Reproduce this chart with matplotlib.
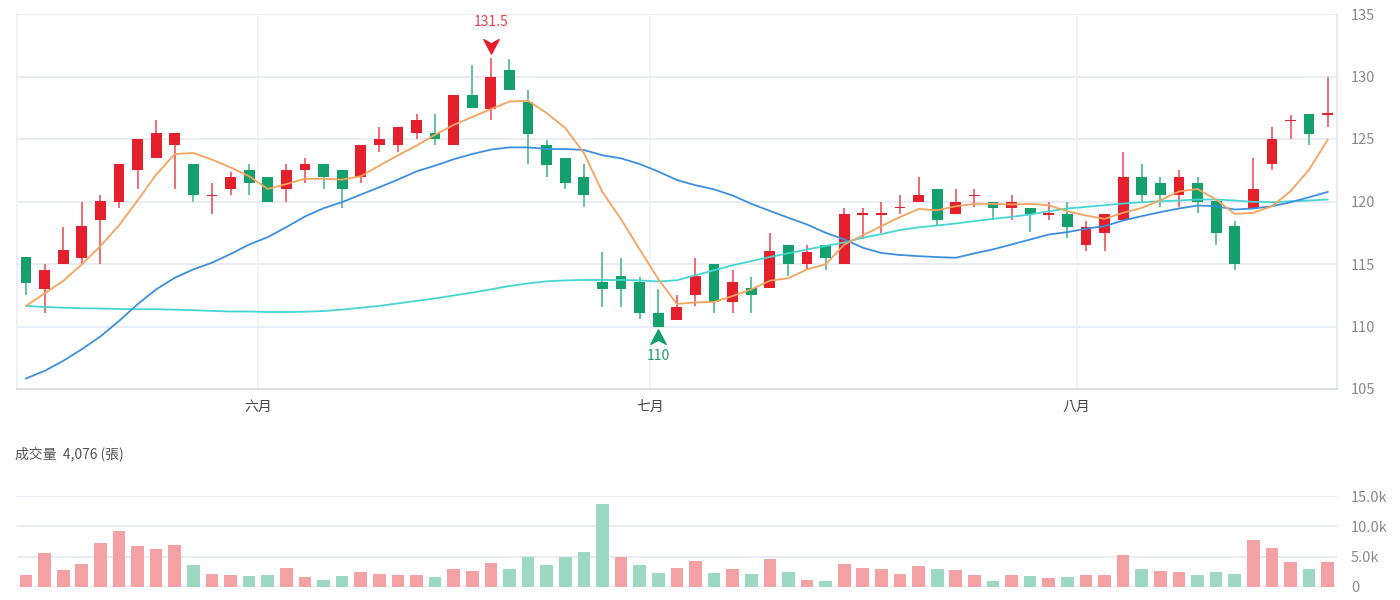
import numpy as np
import matplotlib.pyplot as plt
from matplotlib.path import Path
from matplotlib.transforms import offset_copy

plt.rcParams['font.family'] = ['Noto Sans CJK TC', 'DejaVu Sans']

# daily candles (open, high, low, close)
opens = [115.55, 113.0, 115.0, 115.5, 118.5, 120.0, 122.5, 123.5, 124.5, 123.0,
         120.45, 121.0, 122.5, 122.0, 121.0, 122.5, 123.0, 122.5, 122.0, 124.5,
         124.5, 125.5, 125.5, 124.5, 128.5, 127.4, 130.5, 128.0, 124.5, 123.5,
         122.0, 113.55, 114.05, 113.55, 111.05, 110.5, 112.55, 115.0, 112.0, 113.05,
         113.05, 116.5, 115.0, 116.5, 115.0, 118.95, 118.95, 119.45, 120.0, 121.0,
         119.0, 120.45, 120.0, 119.45, 119.5, 118.95, 119.0, 116.5, 117.5, 118.5,
         122.0, 121.5, 120.5, 121.5, 120.05, 118.05, 119.45, 123.0, 126.45, 127.0,
         126.95]
highs = [115.6, 115.0, 118.0, 120.0, 120.5, 123.0, 125.0, 126.5, 125.5, 123.0,
         121.5, 122.4, 123.0, 122.0, 123.0, 123.5, 123.0, 122.5, 124.5, 126.0,
         126.0, 127.0, 127.0, 128.5, 130.9, 131.5, 131.4, 128.95, 124.95, 123.5,
         123.0, 116.0, 115.5, 114.0, 113.0, 112.5, 115.5, 115.0, 114.5, 114.0,
         117.5, 116.5, 116.5, 116.5, 119.5, 119.5, 120.0, 120.5, 122.0, 121.0,
         121.0, 121.0, 120.0, 120.5, 119.5, 120.0, 120.0, 118.45, 119.0, 123.95,
         123.0, 122.0, 122.5, 122.0, 120.05, 118.45, 123.45, 125.95, 126.95, 127.0,
         130.0]
lows = [112.55, 111.05, 115.0, 115.0, 115.0, 119.5, 121.0, 123.5, 121.0, 120.0,
        119.0, 120.5, 120.5, 120.0, 120.0, 121.5, 121.0, 119.5, 121.5, 124.0,
        124.0, 125.0, 124.5, 124.5, 127.45, 126.5, 128.95, 123.0, 122.0, 121.0,
        119.55, 111.55, 111.55, 110.6, 110.0, 110.5, 111.65, 111.1, 111.1, 111.1,
        113.05, 114.05, 114.5, 114.55, 115.0, 117.0, 117.5, 119.0, 120.0, 118.1,
        119.0, 119.55, 118.55, 118.5, 117.55, 118.5, 117.05, 116.05, 116.05, 118.5,
        120.0, 119.55, 119.55, 119.05, 116.55, 114.55, 119.45, 122.5, 125.0, 124.5,
        126.0]
closes = [113.5, 114.55, 116.1, 118.05, 120.05, 123.0, 125.0, 125.5, 125.5, 120.5,
          120.55, 122.0, 121.5, 120.0, 122.5, 123.0, 122.0, 121.0, 124.5, 125.0,
          126.0, 126.5, 125.0, 128.5, 127.45, 130.0, 128.95, 125.4, 122.95, 121.45,
          120.5, 113.0, 113.0, 111.05, 110.0, 111.55, 114.05, 112.0, 113.55, 112.55,
          116.0, 115.0, 116.0, 115.5, 119.0, 119.05, 119.05, 119.55, 120.5, 118.5,
          120.0, 120.55, 119.45, 120.0, 119.0, 119.05, 118.0, 118.0, 119.0, 122.0,
          120.5, 120.5, 122.0, 120.0, 117.5, 115.0, 121.0, 125.0, 126.55, 125.4,
          127.05]

# moving averages
ma5 = [111.64, 112.65, 113.64, 114.97, 116.43, 118.08, 120.08, 122.15, 123.8, 123.88,
       123.35, 122.73, 122.02, 121.0, 121.4, 121.82, 121.82, 121.75, 122.02, 122.87,
       123.69, 124.47, 125.34, 126.13, 126.76, 127.39, 128.0, 128.06, 127.07, 125.88,
       123.88, 120.75, 118.58, 116.17, 113.8, 111.8, 111.93, 111.96, 112.44, 112.97,
       113.67, 113.86, 114.57, 114.97, 116.55, 117.3, 118.03, 118.76, 119.4, 119.3,
       119.62, 119.81, 119.81, 119.76, 119.81, 119.7, 119.22, 118.88, 118.61, 119.1,
       119.49, 120.1, 120.8, 121.0, 120.16, 119.01, 119.09, 119.62, 120.82, 122.55,
       124.94]
ma20 = [105.84, 106.45, 107.25, 108.18, 109.2, 110.44, 111.78, 112.97, 113.9, 114.57,
        115.1, 115.8, 116.56, 117.15, 117.95, 118.8, 119.46, 119.95, 120.55, 121.14,
        121.75, 122.41, 122.87, 123.38, 123.8, 124.15, 124.33, 124.33, 124.2, 124.2,
        124.12, 123.7, 123.45, 123.0, 122.4, 121.72, 121.3, 120.97, 120.48, 119.82,
        119.25, 118.7, 118.16, 117.5, 116.97, 116.3, 115.88, 115.72, 115.63, 115.55,
        115.5, 115.85, 116.17, 116.56, 116.96, 117.36, 117.55, 117.82, 118.03, 118.48,
        118.83, 119.15, 119.44, 119.68, 119.62, 119.36, 119.44, 119.62, 119.94, 120.34,
        120.77]
ma60 = [111.64, 111.56, 111.5, 111.46, 111.44, 111.4, 111.38, 111.38, 111.35, 111.3,
        111.25, 111.2, 111.2, 111.16, 111.16, 111.18, 111.24, 111.35, 111.5, 111.65,
        111.85, 112.05, 112.25, 112.48, 112.71, 112.97, 113.24, 113.45, 113.61, 113.69,
        113.72, 113.72, 113.72, 113.69, 113.6, 113.7, 114.1, 114.5, 114.9, 115.23,
        115.56, 115.86, 116.16, 116.45, 116.72, 117.1, 117.39, 117.72, 117.93, 118.08,
        118.24, 118.43, 118.61, 118.77, 118.96, 119.22, 119.44, 119.57, 119.7, 119.84,
        119.94, 120.02, 120.08, 120.16, 120.16, 120.08, 119.97, 119.94, 120.02, 120.08,
        120.16]

# volume (張) and whether the bar is drawn as up (1) or down (0)
volume = [2000, 5600, 2800, 3750, 7200, 9200, 6800, 6300, 7000, 3600,
          2200, 2000, 1800, 2000, 3100, 1650, 1200, 1800, 2500, 2200,
          1900, 2000, 1600, 3000, 2600, 4000, 2900, 5000, 3600, 5000,
          5850, 13700, 5000, 3600, 2300, 3100, 4300, 2300, 2900, 2200,
          4600, 2400, 1100, 950, 3800, 3100, 2900, 2150, 3500, 2900,
          2750, 1900, 1000, 1900, 1750, 1500, 1700, 1900, 1900, 5350,
          2900, 2700, 2400, 2000, 2400, 2200, 7700, 6450, 4100, 3000,
          4100]
vol_up = [1, 1, 1, 1, 1, 1, 1, 1, 1, 0, 1, 1, 0, 0, 1, 1, 0, 0, 1, 1,
          1, 1, 0, 1, 1, 1, 0, 0, 0, 0, 0, 0, 1, 0, 0, 1, 1, 0, 1, 0,
          1, 0, 1, 0, 1, 1, 1, 1, 1, 0, 1, 1, 0, 1, 0, 1, 0, 1, 1, 1,
          0, 1, 1, 0, 0, 0, 1, 1, 1, 0, 1]

month_pos = [12.5, 33.55, 56.5]
month_labels = ['六月', '七月', '八月']
price_ticks = [105, 110, 115, 120, 125, 130, 135]
vol_ticks = [0, 5000, 10000, 15000]
vol_labels = ['0', '5.0k', '10.0k', '15.0k']

RED, GREEN = '#e3202c', '#14a06c'
RED_WICK, GREEN_WICK = '#ef6d75', '#62c49c'
RED_VOL, GREEN_VOL = '#f4a1a6', '#9dd8c3'
GRID = '#e9ecf3'
TXT = '#8a8a8a'

o, h, l, c = map(np.array, (opens, highs, lows, closes))
x = np.arange(len(o))
up = c >= o

fig = plt.figure(figsize=(14, 6), dpi=100)
ax = fig.add_axes([16.7 / 1400, 1 - 389 / 600, 1320.3 / 1400, 375 / 600])
axv = fig.add_axes([16.7 / 1400, 1 - 587 / 600, 1320.3 / 1400, 91 / 600])

# price panel
ax.set_xlim(-0.5, len(o) - 0.5)
ax.set_ylim(105, 135)
for y in price_ticks:
    ax.axhline(y, color=GRID, lw=1.4, zorder=0)
for xm in month_pos:
    ax.axvline(xm, color='#f0f2f6', lw=1.2, zorder=0)

ax.vlines(x[up], l[up], h[up], color=RED_WICK, lw=1.4, zorder=2)
ax.vlines(x[~up], l[~up], h[~up], color=GREEN_WICK, lw=1.4, zorder=2)
body_lo = np.minimum(o, c)
body_h = np.maximum(np.abs(c - o), 0.1)
ax.bar(x[up], body_h[up], bottom=body_lo[up], width=0.58, color=RED, zorder=3)
ax.bar(x[~up], body_h[~up], bottom=body_lo[~up], width=0.58, color=GREEN, zorder=3)

ax.plot(x, ma60, color='#45d6d3', lw=1.3, zorder=4)
ax.plot(x, ma20, color='#3d8fe0', lw=1.3, zorder=4)
ax.plot(x, ma5, color='#f5a35e', lw=1.3, zorder=4)

# highest / lowest markers
arrow = Path([(0, -1), (-1, 0.9), (0, 0.35), (1, 0.9), (0, -1)],
             [Path.MOVETO, Path.LINETO, Path.LINETO, Path.LINETO, Path.CLOSEPOLY])
arrow_up = Path(arrow.vertices * [1, -1], arrow.codes)
i_hi, i_lo = int(np.argmax(h)), int(np.argmin(l))
ax.plot(x[i_hi], h[i_hi], marker=arrow, ms=11, color=RED, zorder=5, clip_on=False,
        transform=offset_copy(ax.transData, fig=fig, y=8.5, units='points'))
ax.annotate(f'{h[i_hi]:g}', (x[i_hi], h[i_hi]), xytext=(0, 25.5), textcoords='offset points',
            ha='center', va='center', color='#e5434d', fontsize=10)
ax.plot(x[i_lo], l[i_lo], marker=arrow_up, ms=11, color=GREEN, zorder=5, clip_on=False,
        transform=offset_copy(ax.transData, fig=fig, y=-7.8, units='points'))
ax.annotate(f'{l[i_lo]:g}', (x[i_lo], l[i_lo]), xytext=(0, -21.5), textcoords='offset points',
            ha='center', va='center', color='#1f9e6c', fontsize=10)

ax.yaxis.tick_right()
ax.set_yticks(price_ticks)
ax.tick_params(axis='y', length=0, pad=10, labelsize=10.5, labelcolor=TXT)
ax.set_xticks(month_pos)
ax.set_xticklabels(month_labels)
ax.tick_params(axis='x', length=0, pad=8, labelsize=10, labelcolor='#444444')
ax.spines['top'].set_visible(False)
ax.spines['left'].set_color('#eceef3')
ax.spines['right'].set_color('#e3e6ec')
ax.spines['bottom'].set_color('#d5d9e0')
for s in ax.spines.values():
    s.set_linewidth(1.2)

# volume panel
axv.set_xlim(-0.5, len(o) - 0.5)
axv.set_ylim(0, 15000)
for y in vol_ticks:
    axv.axhline(y, color=GRID, lw=1.4, zorder=0)
vcol = [RED_VOL if u else GREEN_VOL for u in vol_up]
axv.bar(x, volume, width=0.68, color=vcol, zorder=2)
axv.yaxis.tick_right()
axv.set_yticks(vol_ticks)
axv.set_yticklabels(vol_labels)
axv.tick_params(axis='y', length=0, pad=10, labelsize=10.5, labelcolor=TXT)
axv.set_xticks([])
for s in axv.spines.values():
    s.set_visible(False)

fig.text(15 / 1400, 1 - 454 / 600, '成交量  4,076 (張)', fontsize=10, color='#555555',
         va='center', ha='left')

fig.savefig('out.png', dpi=100)
